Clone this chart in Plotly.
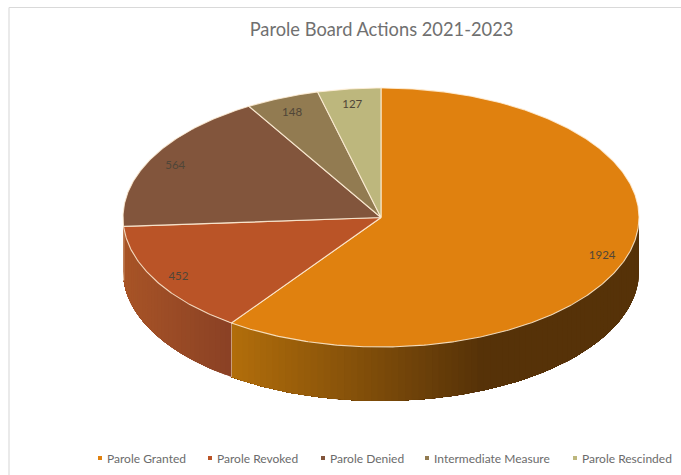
import math
import plotly.graph_objects as go

# Parole board actions, 2021-2023
categories = ["Parole Granted", "Parole Revoked", "Parole Denied", "Intermediate Measure", "Parole Rescinded"]
values = [1924, 452, 564, 148, 127]
top_colors = ["#E0810F", "#BA5427", "#82553C", "#927B51", "#BDB77D"]
wall_shades = [
    ((178, 110, 11), (86, 50, 8)),
    ((168, 84, 38), (138, 65, 37)),
    ((168, 84, 38), (168, 84, 38)),
    ((110, 90, 60), (110, 90, 60)),
    ((150, 145, 95), (150, 145, 95)),
]
legend_marker_x = [100, 210, 323, 427, 575]

# Projection of the tilted disc onto the page, in pixels
CX, CY, RX, RY, DEPTH = 381, 217.5, 258, 129.5, 54
EDGE = "rgba(255,238,215,0.85)"


def project(angle, drop=0):
    a = math.radians(angle)
    return CX + RX * math.sin(a), CY - RY * math.cos(a) + drop


def arc(start, end, step=1.0):
    n = max(2, int(abs(end - start) / step) + 1)
    return [start + (end - start) * i / (n - 1) for i in range(n)]


def mix(c0, c1, t):
    t = min(1, max(0, t))
    return "rgb(%d,%d,%d)" % tuple(round(a + (b - a) * t) for a, b in zip(c0, c1))


total = sum(values)
edges = [0]
for v in values:
    edges.append(edges[-1] + v / total * 360)

fig = go.Figure()


def polygon(xs, ys, fill, line=None, width=1):
    fig.add_trace(go.Scatter(
        x=xs, y=ys, mode="lines", fill="toself", fillcolor=fill,
        line=dict(color=line or fill, width=width), hoverinfo="skip", showlegend=False))


# Side wall, visible only on the front half. Each shade repaints the rest of
# the slice's wall on top of the previous one, so the bands leave no seams.
for i in range(len(values)):
    a0, a1 = max(edges[i], 90), min(edges[i + 1], 270)
    if a1 <= a0:
        continue
    x_lo = project(a1)[0]
    x_hi = project(a0)[0]
    fade_span = 250 if i == 0 else max(x_hi - x_lo, 1)
    steps = arc(a0, a1, 1.5)
    for k in range(len(steps) - 1):
        rest = steps[k:]
        top = [project(a) for a in rest]
        bottom = [project(a, DEPTH) for a in reversed(rest)]
        t = (project((steps[k] + steps[k + 1]) / 2)[0] - x_lo) / fade_span
        outline = top + bottom + top[:1]
        fig.add_trace(go.Scatter(
            x=[p[0] for p in outline], y=[p[1] for p in outline], mode="lines",
            fill="toself", fillcolor=mix(*wall_shades[i], t),
            line=dict(width=0), hoverinfo="skip", showlegend=False))
    # Seam at the slice boundary
    if edges[i + 1] < 270:
        sx, sy = project(edges[i + 1])
        fig.add_trace(go.Scatter(x=[sx, sx], y=[sy, sy + DEPTH], mode="lines",
                                 line=dict(color=EDGE, width=1.2),
                                 hoverinfo="skip", showlegend=False))

# Top face of each slice
for i, color in enumerate(top_colors):
    pts = [project(a) for a in arc(edges[i], edges[i + 1], 0.5)]
    polygon([CX] + [p[0] for p in pts] + [CX], [CY] + [p[1] for p in pts] + [CY], color, EDGE, 1.1)

# Value labels sit near the rim along each slice's bisector
label_angles = [(edges[i] + edges[i + 1]) / 2 for i in range(len(values))]
label_pts = [(CX + 0.9 * RX * math.sin(math.radians(a)), CY - 0.9 * RY * math.cos(math.radians(a)) + 3)
             for a in label_angles]
fig.add_trace(go.Scatter(
    x=[p[0] for p in label_pts], y=[p[1] for p in label_pts], mode="text",
    text=[str(v) for v in values], textposition="middle center",
    textfont=dict(family="Lato", size=11.5, color="#504638"),
    hoverinfo="skip", showlegend=False))

# Legend row along the bottom
LEGEND_Y = 458
fig.add_trace(go.Scatter(
    x=legend_marker_x, y=[LEGEND_Y] * len(categories), mode="markers",
    marker=dict(symbol="square", size=4, color=top_colors),
    hoverinfo="skip", showlegend=False))
annotations = [
    dict(x=mx + 5, y=LEGEND_Y, text=name, xref="x", yref="y", xanchor="left", yanchor="middle",
         showarrow=False, font=dict(family="Lato", size=12, color="#6b6b6b"))
    for mx, name in zip(legend_marker_x, categories)
]

fig.update_layout(
    width=681, height=475, margin=dict(l=0, r=0, t=0, b=0),
    paper_bgcolor="white", plot_bgcolor="white", showlegend=False,
    title=dict(text="Parole Board Actions 2021-2023", x=381.5 / 681, xanchor="center",
               y=1 - 30 / 475, yanchor="middle",
               font=dict(family="Lato", size=18.3, color="#707070")),
    xaxis=dict(range=[0, 681], visible=False, fixedrange=True),
    yaxis=dict(range=[475, 0], visible=False, fixedrange=True),
    annotations=annotations,
    shapes=[
        dict(type="line", xref="x", yref="y", x0=9, x1=681, y0=7.5, y1=7.5, line=dict(color="#d9d9d9", width=1.2)),
        dict(type="line", xref="x", yref="y", x0=9, x1=9, y0=7.5, y1=475, line=dict(color="#dcdcdc", width=1.2)),
    ],
)

fig.write_html("out.html")
